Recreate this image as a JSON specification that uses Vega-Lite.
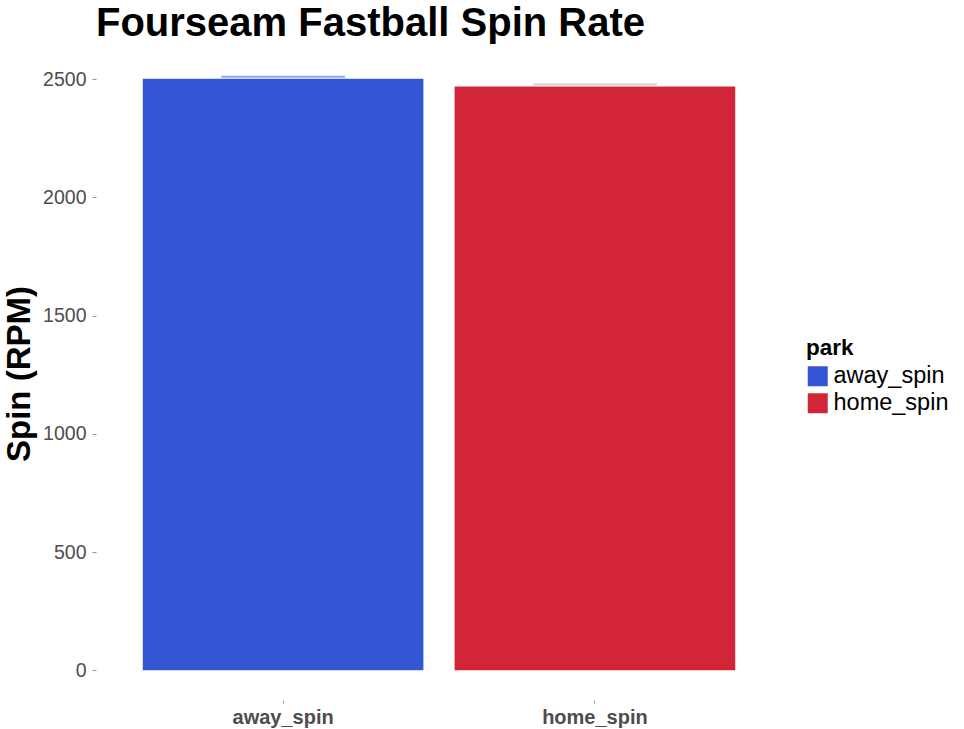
{
  "$schema": "https://vega.github.io/schema/vega-lite/v6.json",
  "autosize": "none",
  "width": 686,
  "height": 653,
  "padding": {"left": 96, "top": 47, "right": 182, "bottom": 29},
  "background": "white",
  "config": {
    "view": {"stroke": null},
    "font": "Liberation Sans"
  },
  "title": {
    "text": "Fourseam Fastball Spin Rate",
    "anchor": "start",
    "frame": "group",
    "fontSize": 40,
    "fontWeight": "bold",
    "color": "black",
    "font": "Liberation Sans",
    "offset": 3
  },
  "data": {
    "values": [
      {"park": "away_spin", "spin": 2502, "upper": 2510, "lower": 2494},
      {"park": "home_spin", "spin": 2469, "upper": 2477, "lower": 2461}
    ]
  },
  "layer": [
    {
      "mark": {"type": "bar"},
      "encoding": {
        "x": {
          "field": "park",
          "type": "nominal",
          "scale": {"paddingInner": 0.1, "paddingOuter": 0.15},
          "axis": {
            "title": null,
            "labelAngle": 0,
            "labelFontSize": 20,
            "labelFontWeight": "bold",
            "labelColor": "#4d4d4d",
            "labelPadding": 4,
            "tickSize": 3,
            "tickColor": "#999999",
            "domain": false,
            "grid": false
          }
        },
        "y": {
          "field": "spin",
          "type": "quantitative",
          "scale": {"domain": [-125.5, 2636], "nice": false, "zero": false},
          "axis": {
            "title": "Spin (RPM)",
            "titleFontSize": 33,
            "titleFontWeight": "bold",
            "titleColor": "black",
            "titlePadding": 6,
            "values": [0, 500, 1000, 1500, 2000, 2500],
            "format": "d",
            "labelFontSize": 19.5,
            "labelColor": "#4d4d4d",
            "labelPadding": 6,
            "tickSize": 4,
            "tickColor": "#999999",
            "domain": false,
            "grid": false
          }
        },
        "color": {
          "field": "park",
          "type": "nominal",
          "scale": {"domain": ["away_spin", "home_spin"], "range": ["#3357d4", "#d22638"]},
          "legend": {
            "title": "park",
            "titleFontSize": 22.5,
            "titleFontWeight": "bold",
            "titleColor": "black",
            "labelFontSize": 23.5,
            "labelColor": "black",
            "symbolType": "square",
            "symbolSize": 400,
            "symbolStrokeWidth": 0,
            "rowPadding": 2,
            "orient": "none",
            "legendX": 710,
            "legendY": 290
          }
        }
      }
    },
    {
      "transform": [{"filter": "datum.park == 'away_spin'"}],
      "mark": {"type": "tick", "size": 124, "thickness": 2, "color": "#6282e6"},
      "encoding": {
        "x": {"field": "park", "type": "nominal"},
        "y": {"field": "upper", "type": "quantitative"}
      }
    },
    {
      "transform": [{"filter": "datum.park == 'home_spin'"}],
      "mark": {"type": "tick", "size": 124, "thickness": 2, "color": "#bdbdbd"},
      "encoding": {
        "x": {"field": "park", "type": "nominal"},
        "y": {"field": "upper", "type": "quantitative"}
      }
    }
  ]
}
